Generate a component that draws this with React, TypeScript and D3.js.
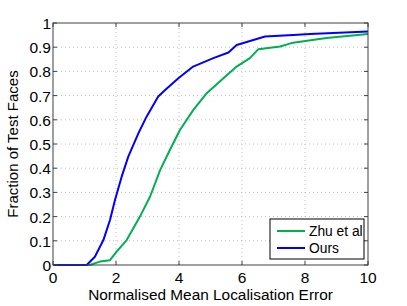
import React from 'react';
import * as d3 from 'd3';

// values
const oursX = [0, 1.07, 1.33, 1.6, 1.81, 1.97, 2.18, 2.39, 2.71, 2.97, 3.34, 3.56, 3.98, 4.45, 5.09, 5.57, 5.83, 6.36, 6.73, 7.63, 8.16, 10];
const oursY = [0, 0, 0.034, 0.103, 0.186, 0.27, 0.365, 0.448, 0.544, 0.613, 0.696, 0.723, 0.772, 0.82, 0.855, 0.878, 0.909, 0.93, 0.944, 0.95, 0.955, 0.965];
const zhuX = [0, 1.17, 1.49, 1.81, 2.02, 2.34, 2.76, 3.08, 3.4, 3.71, 4.03, 4.45, 4.88, 5.41, 5.83, 6.25, 6.52, 7.21, 7.57, 8.68, 10];
const zhuY = [0, 0, 0.014, 0.02, 0.055, 0.103, 0.2, 0.282, 0.392, 0.475, 0.558, 0.64, 0.71, 0.772, 0.82, 0.855, 0.892, 0.903, 0.917, 0.938, 0.955];
const xTicks = [0, 2, 4, 6, 8, 10];
const yTicks = [0, 0.1, 0.2, 0.3, 0.4, 0.5, 0.6, 0.7, 0.8, 0.9, 1];
const seriesNames = ['Zhu et al', 'Ours'];
const seriesColors = ['#00b050', '#0000ff'];

const width = 407;
const height = 306;
const margin = { top: 23, right: 39, bottom: 41, left: 53 };
const font = '"Liberation Sans", Arial, sans-serif';

const App: React.FC = () => {
  const x = d3.scaleLinear().domain([0, 10]).range([margin.left, width - margin.right]);
  const y = d3.scaleLinear().domain([0, 1]).range([height - margin.bottom, margin.top]);

  const line = d3
    .line<[number, number]>()
    .x((d) => x(d[0]))
    .y((d) => y(d[1]));

  const zhu = zhuX.map((v, i) => [v, zhuY[i]] as [number, number]);
  const ours = oursX.map((v, i) => [v, oursY[i]] as [number, number]);

  const x0 = x(0), x1 = x(10), y0 = y(0), y1 = y(1);
  const tickLen = 4;

  // legend box
  const lg = { x: 270, y: 219, w: 94, h: 40 };

  return (
    <svg
      width={width}
      height={height}
      style={{ position: 'absolute', left: 0, top: 0, background: '#fff' }}
      fontFamily={font}
    >
      {/* grid */}
      {xTicks.slice(1, -1).map((t) => (
        <line key={'gx' + t} x1={x(t)} x2={x(t)} y1={y0} y2={y1} stroke="#b0b0b0" strokeWidth={0.8} strokeDasharray="1,3" />
      ))}
      {yTicks.slice(1, -1).map((t) => (
        <line key={'gy' + t} x1={x0} x2={x1} y1={y(t)} y2={y(t)} stroke="#b0b0b0" strokeWidth={0.8} strokeDasharray="1,3" />
      ))}

      {/* curves */}
      <path d={line(zhu) ?? ''} fill="none" stroke={seriesColors[0]} strokeWidth={2} strokeLinejoin="round" />
      <path d={line(ours) ?? ''} fill="none" stroke={seriesColors[1]} strokeWidth={2} strokeLinejoin="round" />

      {/* frame and ticks */}
      <rect x={x0} y={y1} width={x1 - x0} height={y0 - y1} fill="none" stroke="#404040" strokeWidth={1} />
      {xTicks.map((t) => (
        <g key={'tx' + t}>
          <line x1={x(t)} x2={x(t)} y1={y0} y2={y0 - tickLen} stroke="#404040" />
          <line x1={x(t)} x2={x(t)} y1={y1} y2={y1 + tickLen} stroke="#404040" />
          <text x={x(t)} y={283} textAnchor="middle" fontSize={15.5} fill="#000">
            {t}
          </text>
        </g>
      ))}
      {yTicks.map((t) => (
        <g key={'ty' + t}>
          <line x1={x0} x2={x0 + tickLen} y1={y(t)} y2={y(t)} stroke="#404040" />
          <line x1={x1} x2={x1 - tickLen} y1={y(t)} y2={y(t)} stroke="#404040" />
          <text x={x0 - 2} y={y(t) + 6} textAnchor="end" fontSize={15.5} fill="#000">
            {t}
          </text>
        </g>
      ))}

      {/* axis titles */}
      <text x={(x0 + x1) / 2} y={300} textAnchor="middle" fontSize={15.4} fill="#000">
        Normalised Mean Localisation Error
      </text>
      <text
        transform={`translate(18,${(y0 + y1) / 2}) rotate(-90)`}
        textAnchor="middle"
        fontSize={15}
        fill="#000"
      >
        Fraction of Test Faces
      </text>

      {/* legend */}
      <rect x={lg.x} y={lg.y} width={lg.w} height={lg.h} fill="#fff" stroke="#000" strokeWidth={1} />
      {seriesNames.map((name, i) => (
        <g key={name}>
          <line x1={lg.x + 7} x2={lg.x + 35} y1={lg.y + 12 + i * 17} y2={lg.y + 12 + i * 17} stroke={seriesColors[i]} strokeWidth={2} />
          <text x={lg.x + 39} y={lg.y + 17 + i * 17} fontSize={13.8} fill="#000">
            {name}
          </text>
        </g>
      ))}
    </svg>
  );
};

export default App;
